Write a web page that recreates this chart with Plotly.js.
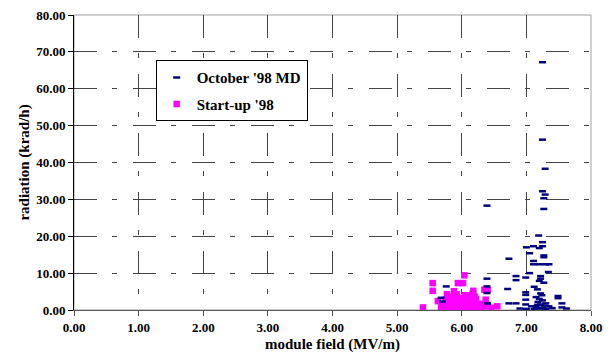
<!DOCTYPE html>
<html>
<head>
<meta charset="utf-8">
<script src="https://cdn.plot.ly/plotly-3.0.1.min.js"></script>
<style>html,body{margin:0;padding:0;background:#fff;}#chart{width:609px;height:356px;}</style>
</head>
<body>
<div id="chart"></div>
<script>
// October '98 MD series (module field MV/m, radiation krad/h)
const octField = [7.25,7.25,7.29,7.25,7.29,7.27,6.39,7.27,7.19,7.25,7.00,7.25,7.11,7.20,7.05,7.27,7.27,6.73,7.11,7.11,7.20,7.30,7.35,7.34,7.05,6.84,6.84,7.22,7.22,6.99,6.39,7.20,7.27,7.12,6.39,5.76,6.71,7.17,7.22,6.39,6.99,6.99,7.49,7.49,5.68,6.73,6.84,6.99,6.99,7.55,7.55,7.30,7.08,5.70,6.40,7.15,7.20,7.25,7.18,7.22,7.28,7.15,7.20,7.25,7.30,7.12,7.35,7.40,7.00,6.90,7.62,7.24,7.17];
const octRad   = [67.2,46.2,38.3,32.2,31.3,30.3,28.3,27.4,20.2,18.4,17.0,17.3,17.3,16.8,15.4,14.8,14.3,13.9,13.3,12.4,12.4,12.4,12.4,10.3,10.0,9.2,8.1,9.2,8.5,8.8,8.5,7.9,7.4,6.3,6.4,6.4,5.7,5.6,4.5,4.6,4.8,4.1,3.8,3.2,3.3,1.8,1.8,2.8,1.5,1.8,0.7,1.8,1.0,2.3,1.8,3.5,3.0,2.6,2.2,1.5,1.2,0.8,0.4,0.6,0.3,0.2,1.0,0.5,0.3,0.4,0.4,4.0,1.4];
// Start-up '98 series
const startField = [6.04,6.02,5.94,5.55,5.55,5.88,5.77,6.18,6.35,6.40,6.17,5.81,5.63,5.75,5.40,6.55,6.30,6.37,6.40,6.10,6.05,5.95,5.85,5.70,5.68,5.80,5.90,6.00,6.10,6.15,6.25,6.22,5.97,5.85,5.72,6.05,6.12,6.30,5.95,6.35,6.45,5.78,5.88,6.02,6.08,6.22,5.75,5.92,6.14,6.26,5.82,5.88,5.93,6.00,6.07,6.12,6.18,6.28,5.80,5.90,6.00,6.09,6.14,5.99,5.78,6.20];
const startRad   = [9.4,7.3,7.3,7.3,5.2,5.1,4.3,5.2,5.5,5.5,4.5,3.3,2.4,2.9,0.7,1.0,1.7,2.8,1.2,3.5,4.0,3.0,3.2,1.5,0.7,1.2,0.5,1.8,2.5,1.0,0.6,1.9,2.4,2.2,0.4,0.3,1.6,0.4,1.2,1.0,0.6,3.6,3.9,2.9,1.3,3.0,0.3,4.3,0.2,1.4,0.8,1.8,0.9,0.6,1.1,2.0,0.5,0.8,2.6,3.4,3.3,4.0,2.8,2.8,1.9,3.6];
const xTicks = [0,1,2,3,4,5,6,7,8];
const yTicks = [0,10,20,30,40,50,60,70,80];

const serif = 'Liberation Serif, Times New Roman, serif';
const gridDash = '23px,15px,5px,16px';

const traces = [
  {
    x: startField, y: startRad, name: "Start-up '98", type: 'scatter', mode: 'markers',
    legendgroup: 'b', legendrank: 2,
    marker: {symbol: 'square', size: 6.5, color: '#FF00FF', line: {width: 0}}
  },
  {
    x: octField, y: octRad, name: "October '98 MD", type: 'scatter', mode: 'markers',
    legendgroup: 'a', legendrank: 1,
    marker: {symbol: 'line-ew', size: 5, color: '#000080', line: {width: 2.5, color: '#000080'}}
  }
];

const layout = {
  width: 609, height: 356,
  margin: {l: 74, r: 18, t: 15, b: 46},
  paper_bgcolor: '#ffffff', plot_bgcolor: '#ffffff',
  showlegend: true,
  legend: {
    x: 0.158, y: 0.847, xanchor: 'left', yanchor: 'top',
    bgcolor: '#ffffff', bordercolor: '#000000', borderwidth: 1,
    font: {family: serif, size: 15, color: '#000', weight: 'bold'},
    traceorder: 'grouped', tracegroupgap: 4
  },
  xaxis: {
    range: [0, 8], tickvals: xTicks, tickformat: '.2f',
    showline: true, linecolor: '#555', linewidth: 1,
    ticks: 'outside', ticklen: 5, tickcolor: '#555',
    showgrid: true, gridcolor: '#444', gridwidth: 1, griddash: gridDash,
    zeroline: false,
    tickfont: {family: serif, size: 13, color: '#000', weight: 'bold'},
    title: {text: 'module field (MV/m)', font: {family: serif, size: 15, color: '#000', weight: 'bold'}, standoff: 4}
  },
  yaxis: {
    range: [0, 80], tickvals: yTicks, tickformat: '.2f',
    showline: true, linecolor: '#000', linewidth: 1,
    ticks: 'outside', ticklen: 5, tickcolor: '#000',
    showgrid: true, gridcolor: '#444', gridwidth: 1, griddash: gridDash,
    zeroline: false,
    tickfont: {family: serif, size: 13, color: '#000', weight: 'bold'},
    title: {text: 'radiation (krad/h)', font: {family: serif, size: 15, color: '#000', weight: 'bold'}, standoff: 2}
  },
  shapes: [{
    type: 'rect', xref: 'paper', yref: 'paper', x0: 0, x1: 1, y0: 0, y1: 1,
    line: {color: '#a0a0a0', width: 1}, layer: 'below'
  }]
};

Plotly.newPlot('chart', traces, layout, {displayModeBar: false, staticPlot: true});
</script>
</body>
</html>
